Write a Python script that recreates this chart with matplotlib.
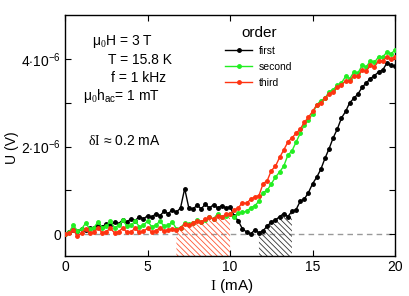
"""Lock-in voltage U vs current I for first/second/third harmonic order."""
import numpy as np
import matplotlib
matplotlib.use("Agg")
import matplotlib.pyplot as plt

plt.rcParams["font.family"] = ["Liberation Sans", "DejaVu Sans"]
plt.rcParams["mathtext.fontset"] = "custom"
plt.rcParams["mathtext.rm"] = "Liberation Serif"
plt.rcParams["mathtext.it"] = "Liberation Serif:italic"
plt.rcParams["mathtext.sf"] = "Liberation Sans"
plt.rcParams["hatch.linewidth"] = 0.6

# current grid (mA), step 0.25
current = np.round(np.arange(0, 20.001, 0.25), 2)

# voltages in units of 1e-6 V
first = [0.0, 0.05, 0.1, 0.08, 0.12, 0.1, 0.14, 0.15, 0.2, 0.16,
         0.24, 0.2, 0.27, 0.24, 0.33, 0.28, 0.35, 0.31, 0.4, 0.35,
         0.42, 0.38, 0.47, 0.42, 0.52, 0.47, 0.55, 0.5, 0.6, 1.04,
         0.6, 0.57, 0.66, 0.58, 0.68, 0.6, 0.67, 0.6, 0.65, 0.6,
         0.62, 0.42, 0.3, 0.12, 0.05, 0.0, 0.1, 0.03, 0.08, 0.18,
         0.28, 0.32, 0.4, 0.47, 0.4, 0.52, 0.56, 0.75, 0.8, 0.95,
         1.15, 1.3, 1.48, 1.73, 1.95, 2.2, 2.4, 2.65, 2.8, 3.0,
         3.1, 3.2, 3.35, 3.45, 3.55, 3.62, 3.7, 3.75, 3.9, 3.85,
         3.83]
second = [0.0, 0.05, 0.2, 0.08, 0.12, 0.25, 0.12, 0.15, 0.28, 0.15,
          0.18, 0.3, 0.15, 0.2, 0.32, 0.18, 0.2, 0.3, 0.17, 0.2,
          0.3, 0.17, 0.2, 0.3, 0.18, 0.2, 0.28, 0.12, 0.15, 0.25,
          0.22, 0.25, 0.32, 0.28, 0.32, 0.38, 0.35, 0.47, 0.4, 0.42,
          0.45, 0.4, 0.48, 0.5, 0.52, 0.6, 0.65, 0.75, 0.95, 1.0,
          1.15, 1.3, 1.42, 1.55, 1.8, 1.9, 2.1, 2.3, 2.5, 2.6,
          2.75, 2.95, 3.05, 3.1, 3.25, 3.3, 3.4, 3.45, 3.6, 3.55,
          3.7, 3.68, 3.85, 3.82, 3.95, 3.92, 4.05, 4.05, 4.15, 4.12,
          4.2]
third = [0.0, 0.02, 0.1, -0.05, 0.03, 0.12, 0.02, 0.05, 0.14, 0.03,
         0.06, 0.13, 0.03, 0.06, 0.14, 0.04, 0.06, 0.13, 0.04, 0.07,
         0.13, 0.05, 0.08, 0.14, 0.07, 0.1, 0.12, 0.1, 0.15, 0.22,
         0.2, 0.25, 0.3, 0.28, 0.34, 0.38, 0.35, 0.42, 0.4, 0.45,
         0.46, 0.55, 0.6, 0.72, 0.7, 0.8, 0.85, 0.88, 1.15, 1.22,
         1.45, 1.55, 1.75, 1.92, 2.1, 2.2, 2.3, 2.4, 2.55, 2.67,
         2.8, 2.95, 3.0, 3.1, 3.2, 3.25, 3.35, 3.4, 3.5, 3.5,
         3.62, 3.6, 3.75, 3.72, 3.85, 3.82, 3.95, 3.95, 4.05, 4.0,
         4.05]

scale = 1e-6
first = np.array(first) * scale
second = np.array(second) * scale
third = np.array(third) * scale

# hatched current windows (mA)
red_window = (6.75, 10.0)
black_window = (11.75, 13.75)

ymin, ymax = -0.5e-6, 5e-6

fig = plt.figure(figsize=(4.09, 2.96), dpi=100)
ax = fig.add_axes([0.159, 0.135, 0.807, 0.814])

ax.axhline(0, color="#999999", lw=1.0, ls=(0, (4, 3)), zorder=1)

m = (current >= red_window[0]) & (current <= red_window[1])
ax.fill_between(current, ymin, third, where=m, facecolor="none",
                edgecolor="#ff5533", hatch="\\" * 6, lw=0, zorder=1)
m = (current >= black_window[0]) & (current <= black_window[1])
ax.fill_between(current, ymin, first, where=m, facecolor="none",
                edgecolor="#333333", hatch="\\" * 6, lw=0, zorder=1)

kw = dict(marker="o", ms=2.5, lw=1.0, zorder=3)
ax.plot(current, first, color="black", label="first", **kw)
ax.plot(current, second, color="#22ee22", label="second", **kw)
ax.plot(current, third, color="#ff3311", label="third", **kw)

ax.set_xlim(0, 20)
ax.set_ylim(ymin, ymax)
ax.set_xticks([0, 5, 10, 15, 20])
ax.set_yticks([0, 1e-6, 2e-6, 3e-6, 4e-6])
ax.set_yticklabels(["0", "", r"$\mathsf{2{\cdot}10^{-6}}$", "",
                    r"$\mathsf{4{\cdot}10^{-6}}$"])
ax.tick_params(direction="in", top=True, right=True, length=4,
               labelsize=10, pad=3)
for s in ax.spines.values():
    s.set_linewidth(1.0)

ax.set_xlabel(r"$\mathrm{I}$ (mA)", fontsize=11)
ax.xaxis.set_label_coords(0.506, -0.085)
ax.set_ylabel("U (V)", fontsize=10)
ax.yaxis.set_label_coords(-0.14, 0.45)

tk = dict(transform=ax.transAxes, fontsize=10, va="baseline", ha="left")
ax.text(0.082, 0.876, "μ$_0$H = 3 T", **tk)
ax.text(0.130, 0.797, "T = 15.8 K", **tk)
ax.text(0.139, 0.722, "f = 1 kHz", **tk)
ax.text(0.055, 0.647, "μ$_0$h$_{\\mathsf{ac}}$= 1 mT", **tk)
ax.text(0.070, 0.461, r"$\mathrm{δI}$ ≈ 0.2 mA", **tk)

leg = ax.legend(loc="upper left", bbox_to_anchor=(0.47, 0.975), frameon=False,
                title="order", title_fontsize=11, fontsize=7.5,
                handlelength=2.6, handletextpad=0.6, labelspacing=0.55,
                numpoints=1, borderpad=0)

fig.savefig("out.png", dpi=100)
